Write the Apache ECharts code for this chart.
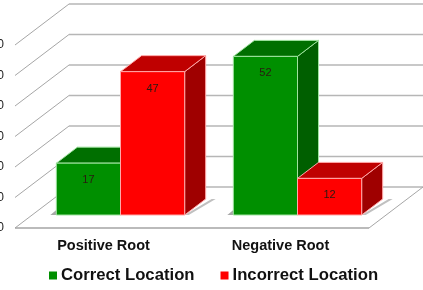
<!DOCTYPE html>
<html>
<head>
<meta charset="utf-8">
<style>html,body{margin:0;padding:0;background:#fff}#chart{width:423px;height:290px}</style>
<script src="https://cdn.jsdelivr.net/npm/echarts@6/dist/echarts.min.js"></script>
</head>
<body>
<div id="chart"></div>
<script>
const categories = ['Positive Root', 'Negative Root'];
const correctLocation = [17, 52];
const incorrectLocation = [47, 12];
const valueTicks = [0, 10, 20, 30, 40, 50, 60];

// Oblique projection: how far the box back wall and each bar sit behind the axis plane
const WALL = [54, -41];
const BAR_SHIFT = [17, -13];
const BAR_DEPTH = [21, -16];
const BAR_BAND_SHARE = 0.3625; // one bar's width as a share of the category band

const palettes = {
  correct: { front: '#008f00', top: '#006f00', side: '#005f00', edge: '#9fe39f' },
  incorrect: { front: '#ff0000', top: '#bf0000', side: '#9f0000', edge: '#ffa8a8' }
};

function poly(points, fill, edge, z2) {
  return {
    type: 'polygon', z2: z2 || 0,
    shape: { points },
    style: { fill, stroke: edge || null, lineWidth: edge ? 1 : 0 }
  };
}

// Draws one bar as a box: floor shadow, side, top and front faces, then its value
function boxBar(palette, offsetSign) {
  return function (params, api) {
    const v = api.value(1);
    const band = api.size([1, 0])[0];
    const w = band * BAR_BAND_SHARE;
    const base = api.coord([api.value(0), 0]);
    const peak = api.coord([api.value(0), v]);
    const x0 = base[0] + BAR_SHIFT[0] + (offsetSign < 0 ? -w : 0);
    const x1 = x0 + w;
    const yb = base[1] + BAR_SHIFT[1];
    const yt = peak[1] + BAR_SHIFT[1];
    const dx = BAR_DEPTH[0], dy = BAR_DEPTH[1];
    const children = [];
    if (offsetSign > 0) {
      children.push({
        type: 'polygon',
        shape: { points: [[x1, yb], [x1 + dx + 6, yb + dy], [x1 + dx + 10, yb + dy], [x1 + 4, yb]] },
        style: { fill: '#c0c0c0' }
      });
    } else {
      children.push({
        type: 'polygon',
        shape: { points: [[x0 - 6, yb], [x0, yb - 5], [x0, yb]] },
        style: { fill: '#a8a8a8' }
      });
    }
    children.push(poly([[x1, yb], [x1 + dx, yb + dy], [x1 + dx, yt + dy], [x1, yt]], palette.side, palette.edge));
    children.push(poly([[x0, yt], [x0 + dx, yt + dy], [x1 + dx, yt + dy], [x1, yt]], palette.top, palette.edge));
    children.push(poly([[x0, yb], [x1, yb], [x1, yt], [x0, yt]], palette.front, palette.edge));
    children.push({
      type: 'text',
      style: {
        x: (x0 + x1) / 2, y: yt + 17, text: String(v),
        fill: '#2a1a10', font: '11px "Liberation Sans"',
        align: 'center', verticalAlign: 'middle'
      }
    });
    return { type: 'group', children };
  };
}

// Floor edges, side-wall diagonals and back-wall gridlines, tied to the value scale
function boxFrame(params, api) {
  const rect = params.coordSys;
  const left = rect.x, right = rect.x + rect.width;
  const y = api.coord([0, api.value(0)])[1];
  const line = (x1, y1, x2, y2, stroke, lineWidth) => ({
    type: 'line',
    shape: { x1, y1, x2, y2 },
    style: { stroke, lineWidth }
  });
  const children = [
    line(left, y, left + WALL[0], y + WALL[1], '#a6a6a6', 1),
    line(left + WALL[0], y + WALL[1], right + WALL[0], y + WALL[1], '#b6b6b6', 1.5)
  ];
  if (api.value(0) === 0) {
    children.push(line(left, y, right, y, '#a4a4a4', 1.5));
    children.push(line(right, y, right + WALL[0], y + WALL[1], '#a6a6a6', 1));
  }
  return { type: 'group', children };
}

const chart = echarts.init(document.getElementById('chart'), null, { renderer: 'canvas' });
chart.setOption({
  animation: false,
  backgroundColor: '#ffffff',
  grid: { left: 15, top: 45, width: 354, height: 183, containLabel: false, outerBoundsMode: 'none' },
  xAxis: {
    type: 'category',
    data: categories,
    axisLine: { show: false },
    axisTick: { show: false },
    axisLabel: { margin: 10, fontFamily: 'Liberation Sans', fontWeight: 'bold', fontSize: 14.5, color: '#111' }
  },
  yAxis: {
    type: 'value', min: 0, max: 60, interval: 10,
    axisLine: { show: false },
    axisTick: { show: false },
    splitLine: { show: false },
    axisLabel: { margin: 11, fontFamily: 'Liberation Sans', fontSize: 12, color: '#222' }
  },
  legend: {
    left: 44, top: 262, itemWidth: 8, itemHeight: 8, itemGap: 26, icon: 'rect',
    textStyle: { fontFamily: 'Liberation Sans', fontWeight: 'bold', fontSize: 16.7, color: '#111', padding: [0, 0, 0, -1] },
    data: ['Correct Location', 'Incorrect Location']
  },
  series: [
    {
      type: 'custom', name: 'frame', clip: false, z: 1, silent: true,
      data: valueTicks.map(t => [t]),
      encode: { y: 0 },
      renderItem: boxFrame
    },
    {
      type: 'custom', name: 'Correct Location', clip: false, z: 2,
      itemStyle: { color: '#008f00' },
      data: correctLocation.map((v, i) => [i, v]),
      encode: { x: 0, y: 1 },
      renderItem: boxBar(palettes.correct, -1)
    },
    {
      type: 'custom', name: 'Incorrect Location', clip: false, z: 3,
      itemStyle: { color: '#ff0000' },
      data: incorrectLocation.map((v, i) => [i, v]),
      encode: { x: 0, y: 1 },
      renderItem: boxBar(palettes.incorrect, 1)
    }
  ]
});
</script>
</body>
</html>
